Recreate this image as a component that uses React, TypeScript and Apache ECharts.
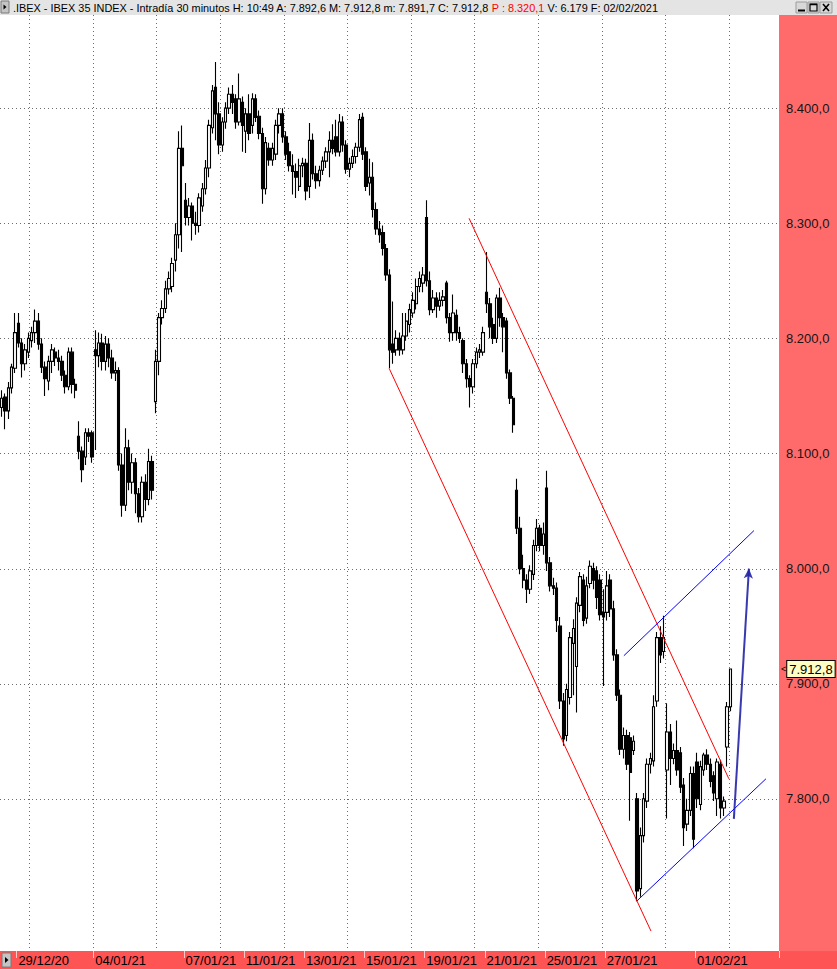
import { useEffect, useRef } from "react";
import * as echarts from "echarts";

const FONT = "'Liberation Sans', Arial, Helvetica, sans-serif";

// ---------- time axis ----------
const tradingDays = [
  "28/12/20", "29/12/20", "30/12/20", "31/12/20", "04/01/21", "05/01/21", "06/01/21",
  "07/01/21", "08/01/21", "11/01/21", "12/01/21", "13/01/21", "14/01/21", "15/01/21",
  "18/01/21", "19/01/21", "20/01/21", "21/01/21", "22/01/21", "25/01/21", "26/01/21",
  "27/01/21", "28/01/21", "29/01/21", "01/02/21", "02/02/21",
];
const fullSessionHours = [9, 10, 11, 12, 13, 14, 15, 16, 17];
const partialSessionHours: Record<string, number[]> = {
  "28/12/20": [13, 14, 15, 16, 17],
  "31/12/20": [9, 10, 11, 12, 13],
  "02/02/21": [9, 10],
};
const labeledDays = [
  "29/12/20", "04/01/21", "07/01/21", "11/01/21", "13/01/21", "15/01/21",
  "19/01/21", "21/01/21", "25/01/21", "27/01/21", "01/02/21",
];
const emptySlotsAfterLast = 14;

// ---------- price bars: [open, close, low, high] ----------
const candles: number[][] = [
  [8140, 8148, 8132, 8155], [8149, 8137, 8121, 8152], [8137, 8157, 8130, 8162], [8157, 8175, 8152, 8178], [8174, 8205, 8170, 8222],
  [8213, 8196, 8192, 8222], [8196, 8178, 8166, 8200], [8178, 8190, 8172, 8195], [8188, 8200, 8183, 8205], [8198, 8205, 8192, 8210],
  [8205, 8215, 8196, 8225], [8215, 8195, 8190, 8222], [8195, 8175, 8170, 8200], [8175, 8165, 8150, 8180],
  [8163, 8180, 8155, 8185], [8180, 8190, 8170, 8195], [8188, 8183, 8176, 8192], [8183, 8180, 8172, 8190], [8180, 8168, 8163, 8185],
  [8168, 8158, 8152, 8172], [8158, 8188, 8155, 8192], [8188, 8160, 8152, 8192], [8160, 8155, 8148, 8165],
  [8115, 8102, 8095, 8128], [8102, 8086, 8075, 8106], [8097, 8118, 8090, 8122], [8118, 8115, 8110, 8122], [8118, 8097, 8092, 8120],
  [8190, 8185, 8103, 8207], [8185, 8196, 8175, 8205], [8196, 8180, 8172, 8204], [8180, 8195, 8172, 8202], [8195, 8183, 8175, 8200],
  [8183, 8170, 8165, 8190], [8170, 8172, 8163, 8180], [8172, 8090, 8085, 8175], [8090, 8055, 8045, 8100],
  [8055, 8105, 8050, 8122], [8105, 8075, 8068, 8112], [8075, 8092, 8065, 8100], [8092, 8065, 8048, 8096], [8065, 8045, 8040, 8070],
  [8045, 8075, 8040, 8080], [8075, 8060, 8050, 8082], [8060, 8093, 8055, 8104], [8093, 8068, 8060, 8098],
  [8145, 8180, 8135, 8190], [8180, 8218, 8168, 8222], [8218, 8226, 8212, 8233], [8226, 8243, 8222, 8250], [8243, 8252, 8238, 8258],
  [8245, 8265, 8240, 8270], [8268, 8290, 8258, 8300], [8290, 8365, 8278, 8380], [8365, 8350, 8275, 8385],
  [8320, 8305, 8298, 8335], [8305, 8315, 8298, 8322], [8315, 8300, 8285, 8318], [8300, 8298, 8290, 8310], [8298, 8322, 8292, 8326],
  [8315, 8330, 8310, 8335], [8330, 8348, 8325, 8355], [8348, 8385, 8340, 8390], [8383, 8415, 8378, 8420],
  [8418, 8395, 8372, 8440], [8395, 8368, 8360, 8405], [8368, 8388, 8362, 8392], [8388, 8400, 8382, 8405], [8400, 8412, 8395, 8418],
  [8412, 8405, 8395, 8420], [8408, 8388, 8382, 8412], [8388, 8408, 8385, 8430], [8405, 8385, 8362, 8410],
  [8380, 8395, 8361, 8400], [8395, 8378, 8372, 8412], [8385, 8408, 8378, 8413], [8408, 8392, 8388, 8412], [8393, 8378, 8373, 8398],
  [8378, 8330, 8317, 8383], [8330, 8370, 8325, 8375], [8365, 8355, 8350, 8370], [8355, 8365, 8350, 8370],
  [8360, 8385, 8355, 8390], [8385, 8395, 8378, 8400], [8395, 8375, 8370, 8400], [8375, 8360, 8355, 8380], [8362, 8350, 8345, 8370],
  [8350, 8345, 8325, 8360], [8345, 8340, 8322, 8352], [8332, 8350, 8328, 8356], [8350, 8352, 8340, 8357],
  [8352, 8328, 8320, 8356], [8332, 8372, 8322, 8387], [8372, 8343, 8338, 8378], [8343, 8337, 8330, 8350], [8337, 8346, 8332, 8350],
  [8346, 8354, 8342, 8358], [8354, 8362, 8348, 8366], [8362, 8372, 8340, 8380], [8372, 8365, 8360, 8386],
  [8375, 8362, 8358, 8390], [8362, 8388, 8358, 8395], [8388, 8368, 8362, 8393], [8368, 8347, 8343, 8372], [8347, 8352, 8340, 8357],
  [8352, 8358, 8348, 8364], [8358, 8366, 8352, 8370], [8366, 8390, 8362, 8395], [8392, 8360, 8355, 8396],
  [8362, 8332, 8328, 8366], [8335, 8340, 8324, 8356], [8340, 8312, 8305, 8353], [8312, 8295, 8290, 8318], [8295, 8290, 8283, 8302],
  [8292, 8278, 8272, 8298], [8278, 8255, 8250, 8282], [8255, 8190, 8174, 8260], [8195, 8188, 8178, 8232],
  [8190, 8200, 8185, 8207], [8200, 8190, 8185, 8205], [8190, 8202, 8186, 8222], [8202, 8215, 8198, 8222], [8212, 8225, 8205, 8230],
  [8222, 8233, 8218, 8240], [8230, 8245, 8225, 8252], [8245, 8252, 8240, 8258], [8248, 8255, 8240, 8262],
  [8305, 8250, 8245, 8320], [8250, 8225, 8220, 8258], [8225, 8235, 8222, 8242], [8235, 8228, 8218, 8240], [8228, 8233, 8224, 8240],
  [8233, 8236, 8228, 8242], [8248, 8218, 8213, 8250], [8218, 8205, 8197, 8222], [8205, 8222, 8198, 8238],
  [8220, 8205, 8198, 8225], [8205, 8200, 8196, 8210], [8198, 8178, 8170, 8200], [8178, 8165, 8157, 8182], [8165, 8158, 8140, 8168],
  [8158, 8178, 8152, 8182], [8178, 8188, 8174, 8192], [8188, 8190, 8183, 8195], [8188, 8205, 8185, 8210],
  [8240, 8230, 8222, 8275], [8230, 8210, 8200, 8235], [8212, 8200, 8195, 8218], [8200, 8235, 8196, 8238], [8235, 8218, 8210, 8244],
  [8218, 8210, 8188, 8222], [8215, 8170, 8165, 8218], [8170, 8148, 8143, 8173], [8148, 8125, 8118, 8150],
  [8068, 8035, 8030, 8078], [8035, 8000, 7995, 8045], [8000, 7990, 7983, 8012], [7990, 7982, 7970, 7995], [7982, 7998, 7978, 8003],
  [7995, 8020, 7990, 8025], [8020, 8035, 8015, 8043], [8035, 8020, 8015, 8038], [8020, 8030, 8012, 8040],
  [8070, 8005, 7998, 8085], [8005, 7985, 7980, 8010], [7985, 7983, 7977, 7992], [7983, 7955, 7945, 7988], [7950, 7885, 7878, 7958],
  [7885, 7852, 7846, 7892], [7855, 7895, 7850, 7900], [7888, 7940, 7882, 7945], [7935, 7948, 7890, 7956],
  [7915, 7970, 7875, 7975], [7968, 7993, 7962, 7997], [7990, 7955, 7950, 7995], [7957, 7985, 7952, 7993], [7987, 8002, 7983, 8007],
  [8000, 7990, 7982, 8005], [7998, 7975, 7965, 8002], [7990, 7960, 7955, 7995], [7962, 7958, 7898, 7982],
  [7962, 7985, 7955, 7998], [7990, 7965, 7958, 7995], [7965, 7925, 7920, 7972], [7925, 7890, 7885, 7930], [7890, 7843, 7838, 7895],
  [7843, 7855, 7835, 7862], [7855, 7830, 7825, 7860], [7853, 7823, 7781, 7858], [7842, 7850, 7838, 7855],
  [7800, 7720, 7711, 7805], [7722, 7768, 7715, 7775], [7768, 7800, 7762, 7805], [7798, 7830, 7792, 7835], [7830, 7835, 7822, 7840],
  [7833, 7880, 7828, 7890], [7885, 7940, 7880, 7945], [7940, 7925, 7918, 7950], [7928, 7940, 7922, 7959],
  [7825, 7858, 7783, 7883], [7858, 7835, 7812, 7865], [7835, 7842, 7830, 7848], [7842, 7825, 7820, 7868], [7840, 7810, 7805, 7845],
  [7812, 7775, 7759, 7818], [7778, 7790, 7772, 7800], [7790, 7822, 7785, 7828], [7822, 7765, 7757, 7828],
  [7832, 7800, 7792, 7840], [7795, 7828, 7790, 7833], [7825, 7838, 7820, 7840], [7838, 7830, 7825, 7843], [7830, 7815, 7810, 7835],
  [7820, 7805, 7798, 7824], [7800, 7832, 7785, 7835], [7830, 7792, 7783, 7834], [7792, 7798, 7785, 7802],
  [7845, 7880, 7828, 7884], [7880, 7912.8, 7876, 7912.8],
];

const priceGridLines = [7800, 7900, 8000, 8100, 8200, 8300, 8400];
const yMin = 7667.8;
const yMax = 8480.9;
const lastClose = 7912.8;

// ---------- drawn trend lines: [bar position, price] ----------
const upperRedLine = [[139.8, 8304.3], [217.5, 7817.4]];
const lowerRedLine = [[115.9, 8173.9], [194.2, 7685.2]];
const lowerBlueLine = [[190.0, 7711.3], [228.6, 7817.4]];
const upperBlueLine = [[186.1, 7924.3], [225.0, 8033.0]];
const targetArrow = [[219.0, 7782.6], [223.5, 8000.0]];

// ---------- header values ----------
const headerTitle = ".IBEX - IBEX 35 INDEX - Intradía 30 minutos";
const headerTime = "10:49";
const headerOpen = 7892.6;
const headerHigh = 7912.8;
const headerLow = 7891.7;
const headerClose = 7912.8;
const headerPrev = 8320.1;
const headerVolume = "6.179";
const headerDate = "02/02/2021";

// vertical time grid (pixel layout of the terminal's own grid)
const verticalGridCount = 12;
const verticalGridFirstX = 29;
const verticalGridStep = 63.64;

function fmtEs(v: number, decimals = 1): string {
  const s = v.toFixed(decimals);
  const [intPart, decPart] = s.split(".");
  const withSep = intPart.replace(/\B(?=(\d{3})+(?!\d))/g, ".");
  return decPart ? `${withSep},${decPart}` : withSep;
}

const categories: string[] = [];
const dayFirstIndex: Record<string, number> = {};
tradingDays.forEach((d) => {
  dayFirstIndex[d] = categories.length;
  (partialSessionHours[d] || fullSessionHours).forEach((h) =>
    categories.push(`${d} ${String(h).padStart(2, "0")}:00`)
  );
});
for (let i = 0; i < emptySlotsAfterLast; i++) categories.push(`+${i + 1}`);
const labelIndexSet = new Set(labeledDays.map((d) => dayFirstIndex[d]));

const headerText =
  `{t|${headerTitle} H: ${headerTime} A: ${fmtEs(headerOpen)} M: ${fmtEs(headerHigh)} m: ${fmtEs(headerLow)} C: ${fmtEs(headerClose)} }` +
  `{r|P : ${fmtEs(headerPrev)}}{t| V: ${headerVolume} F: ${headerDate}}`;

const GRID_COLOR = "#6c6c6c";

const lineSeries = (data: number[][], color: string, extra: any = {}) => ({
  type: "line",
  xAxisIndex: 1,
  yAxisIndex: 0,
  data,
  symbol: "none",
  showSymbol: false,
  silent: true,
  z: 4,
  lineStyle: { color, width: 1 },
  ...extra,
});

const option: any = {
  animation: false,
  backgroundColor: "#ffffff",
  textStyle: { fontFamily: FONT },
  grid: [{ left: 0, right: 58, top: 15, bottom: 18, outerBoundsMode: "none", containLabel: false }],
  xAxis: [
    {
      type: "category",
      gridIndex: 0,
      data: categories,
      boundaryGap: true,
      axisLine: { show: false },
      axisTick: {
        show: true,
        alignWithLabel: false,
        interval: (i: number) => labelIndexSet.has(i),
        length: 7,
        lineStyle: { color: "#ffc8c8", width: 1 },
      },
      axisLabel: {
        show: true,
        interval: (i: number) => labelIndexSet.has(i),
        formatter: (v: string) => v.split(" ")[0],
        align: "left",
        margin: 3,
        fontSize: 13,
        color: "#000000",
        fontFamily: FONT,
      },
      splitLine: { show: false },
    },
    { type: "value", gridIndex: 0, min: -0.5, max: categories.length - 0.5, show: false },
  ],
  yAxis: [
    {
      type: "value",
      gridIndex: 0,
      position: "right",
      min: yMin,
      max: yMax,
      splitNumber: 8,
      minInterval: 100,
      maxInterval: 100,
      axisLine: { show: false },
      axisTick: { show: false },
      splitLine: { show: false },
      axisLabel: {
        margin: 7,
        fontSize: 13,
        color: "#151515",
        fontFamily: FONT,
        formatter: (v: number) =>
          priceGridLines.some((g) => Math.abs(g - v) < 0.01) ? fmtEs(v) : "",
      },
    },
  ],
  graphic: [
    { type: "rect", z: -1, silent: true, shape: { x: 779, y: 15, width: 58, height: 936 }, style: { fill: "#ff6b6b" } },
    { type: "rect", z: -1, silent: true, shape: { x: 0, y: 951, width: 837, height: 18 }, style: { fill: "#ff5454" } },
    { type: "rect", z: 5, silent: true, shape: { x: 2, y: 953, width: 9, height: 14 }, style: { fill: "#c4c4c4", stroke: "#7a7a7a", lineWidth: 1 } },
    { type: "polygon", z: 6, silent: true, shape: { points: [[5, 957], [5, 963], [8.5, 960]] }, style: { fill: "#000000" } },
    { type: "rect", z: 10, silent: true, shape: { x: 0, y: 0, width: 837, height: 15 }, style: { fill: "#e4e4e4" } },
    { type: "rect", z: 11, silent: true, shape: { x: 1, y: 1, width: 8, height: 12 }, style: { fill: "#c4c4c4", stroke: "#7a7a7a", lineWidth: 1 } },
    { type: "polygon", z: 12, silent: true, shape: { points: [[3.5, 4.5], [3.5, 9.5], [6.5, 7]] }, style: { fill: "#000000" } },
    {
      type: "text",
      z: 12,
      silent: true,
      x: 13,
      y: 8,
      style: {
        text: headerText,
        verticalAlign: "middle",
        align: "left",
        rich: {
          t: { fontSize: 10.9, fontFamily: FONT, fill: "#000000", color: "#000000" },
          r: { fontSize: 10.9, fontFamily: FONT, fill: "#ff0000", color: "#ff0000" },
        },
      },
    },
    // window buttons
    { type: "rect", z: 11, silent: true, shape: { x: 796, y: 2, width: 11, height: 11 }, style: { fill: "#d8d8d8", stroke: "#9c9c9c", lineWidth: 1 } },
    { type: "rect", z: 11, silent: true, shape: { x: 808, y: 2, width: 11, height: 11 }, style: { fill: "#d8d8d8", stroke: "#9c9c9c", lineWidth: 1 } },
    { type: "rect", z: 11, silent: true, shape: { x: 820, y: 2, width: 12, height: 11 }, style: { fill: "#d8d8d8", stroke: "#9c9c9c", lineWidth: 1 } },
    { type: "line", z: 12, silent: true, shape: { x1: 798, y1: 10.5, x2: 805, y2: 10.5 }, style: { stroke: "#000000", lineWidth: 2 } },
    { type: "rect", z: 12, silent: true, shape: { x: 810, y: 4, width: 7, height: 7 }, style: { fill: "none", stroke: "#000000", lineWidth: 1.2 } },
    { type: "line", z: 12, silent: true, shape: { x1: 810, y1: 4.5, x2: 817, y2: 4.5 }, style: { stroke: "#000000", lineWidth: 1.5 } },
    { type: "line", z: 12, silent: true, shape: { x1: 823, y1: 4, x2: 829, y2: 11 }, style: { stroke: "#000000", lineWidth: 1.6 } },
    { type: "line", z: 12, silent: true, shape: { x1: 829, y1: 4, x2: 823, y2: 11 }, style: { stroke: "#000000", lineWidth: 1.6 } },
  ],
  series: [
    // horizontal dotted price grid
    {
      type: "custom",
      xAxisIndex: 0,
      yAxisIndex: 0,
      z: 1,
      silent: true,
      clip: false,
      data: priceGridLines.map((v) => [0, v]),
      renderItem: (params: any, api: any) => {
        const cs = params.coordSys;
        const y = Math.round(api.coord([0, api.value(1)])[1]) + 0.5;
        return {
          type: "line",
          shape: { x1: cs.x, y1: y, x2: cs.x + cs.width, y2: y },
          style: { stroke: GRID_COLOR, lineWidth: 1, lineDash: [1, 3] },
        };
      },
    },
    // vertical dotted time grid
    {
      type: "custom",
      xAxisIndex: 0,
      yAxisIndex: 0,
      z: 1,
      silent: true,
      clip: false,
      data: Array.from({ length: verticalGridCount }, (_, k) => [k, yMin]),
      renderItem: (params: any, api: any) => {
        const cs = params.coordSys;
        const x = Math.round(cs.x + verticalGridFirstX + api.value(0) * verticalGridStep) + 0.5;
        return {
          type: "line",
          shape: { x1: x, y1: cs.y, x2: x, y2: cs.y + cs.height },
          style: { stroke: GRID_COLOR, lineWidth: 1, lineDash: [1, 3] },
        };
      },
    },
    {
      type: "candlestick",
      xAxisIndex: 0,
      yAxisIndex: 0,
      data: candles,
      barWidth: 2.9,
      z: 2,
      itemStyle: {
        color: "#ffffff",
        color0: "#000000",
        borderColor: "#000000",
        borderColor0: "#000000",
        borderWidth: 1.1,
      },
      markLine: {
        silent: true,
        symbol: ["none", "none"],
        lineStyle: { color: "rgba(0,0,0,0)", width: 0, type: "solid" },
        label: {
          show: true,
          position: "end",
          distance: 2,
          color: "#000000",
          formatter: () => `{a|<}{b|${fmtEs(lastClose)}}`,
          rich: {
            a: { fontSize: 9, color: "#000000", fontFamily: FONT, padding: [0, 1, 0, 0] },
            b: {
              fontSize: 13,
              color: "#000000",
              fontFamily: FONT,
              backgroundColor: "#ffffc4",
              borderColor: "#000000",
              borderWidth: 1,
              padding: [2, 2, 1, 2],
              lineHeight: 14,
            },
          },
        },
        data: [{ yAxis: lastClose }],
      },
    },
    lineSeries(upperRedLine, "#ff0000"),
    lineSeries(lowerRedLine, "#ff0000"),
    lineSeries(lowerBlueLine, "#0000ff"),
    lineSeries(upperBlueLine, "#0000ff", {
      markLine: {
        silent: true,
        symbol: ["none", "arrow"],
        symbolSize: [7, 10],
        label: { show: false },
        lineStyle: { color: "#2424a6", width: 2, type: "solid", opacity: 0.9 },
        data: [[{ coord: targetArrow[0] }, { coord: targetArrow[1] }]],
      },
    }),
  ],
};

export default function App() {
  const ref = useRef<HTMLDivElement>(null);
  useEffect(() => {
    if (!ref.current) return;
    const chart = echarts.init(ref.current, null, { renderer: "svg" });
    chart.setOption(option);
    return () => chart.dispose();
  }, []);
  return (
    <div
      ref={ref}
      style={{ position: "fixed", left: 0, top: 0, width: 837, height: 969 }}
    />
  );
}
